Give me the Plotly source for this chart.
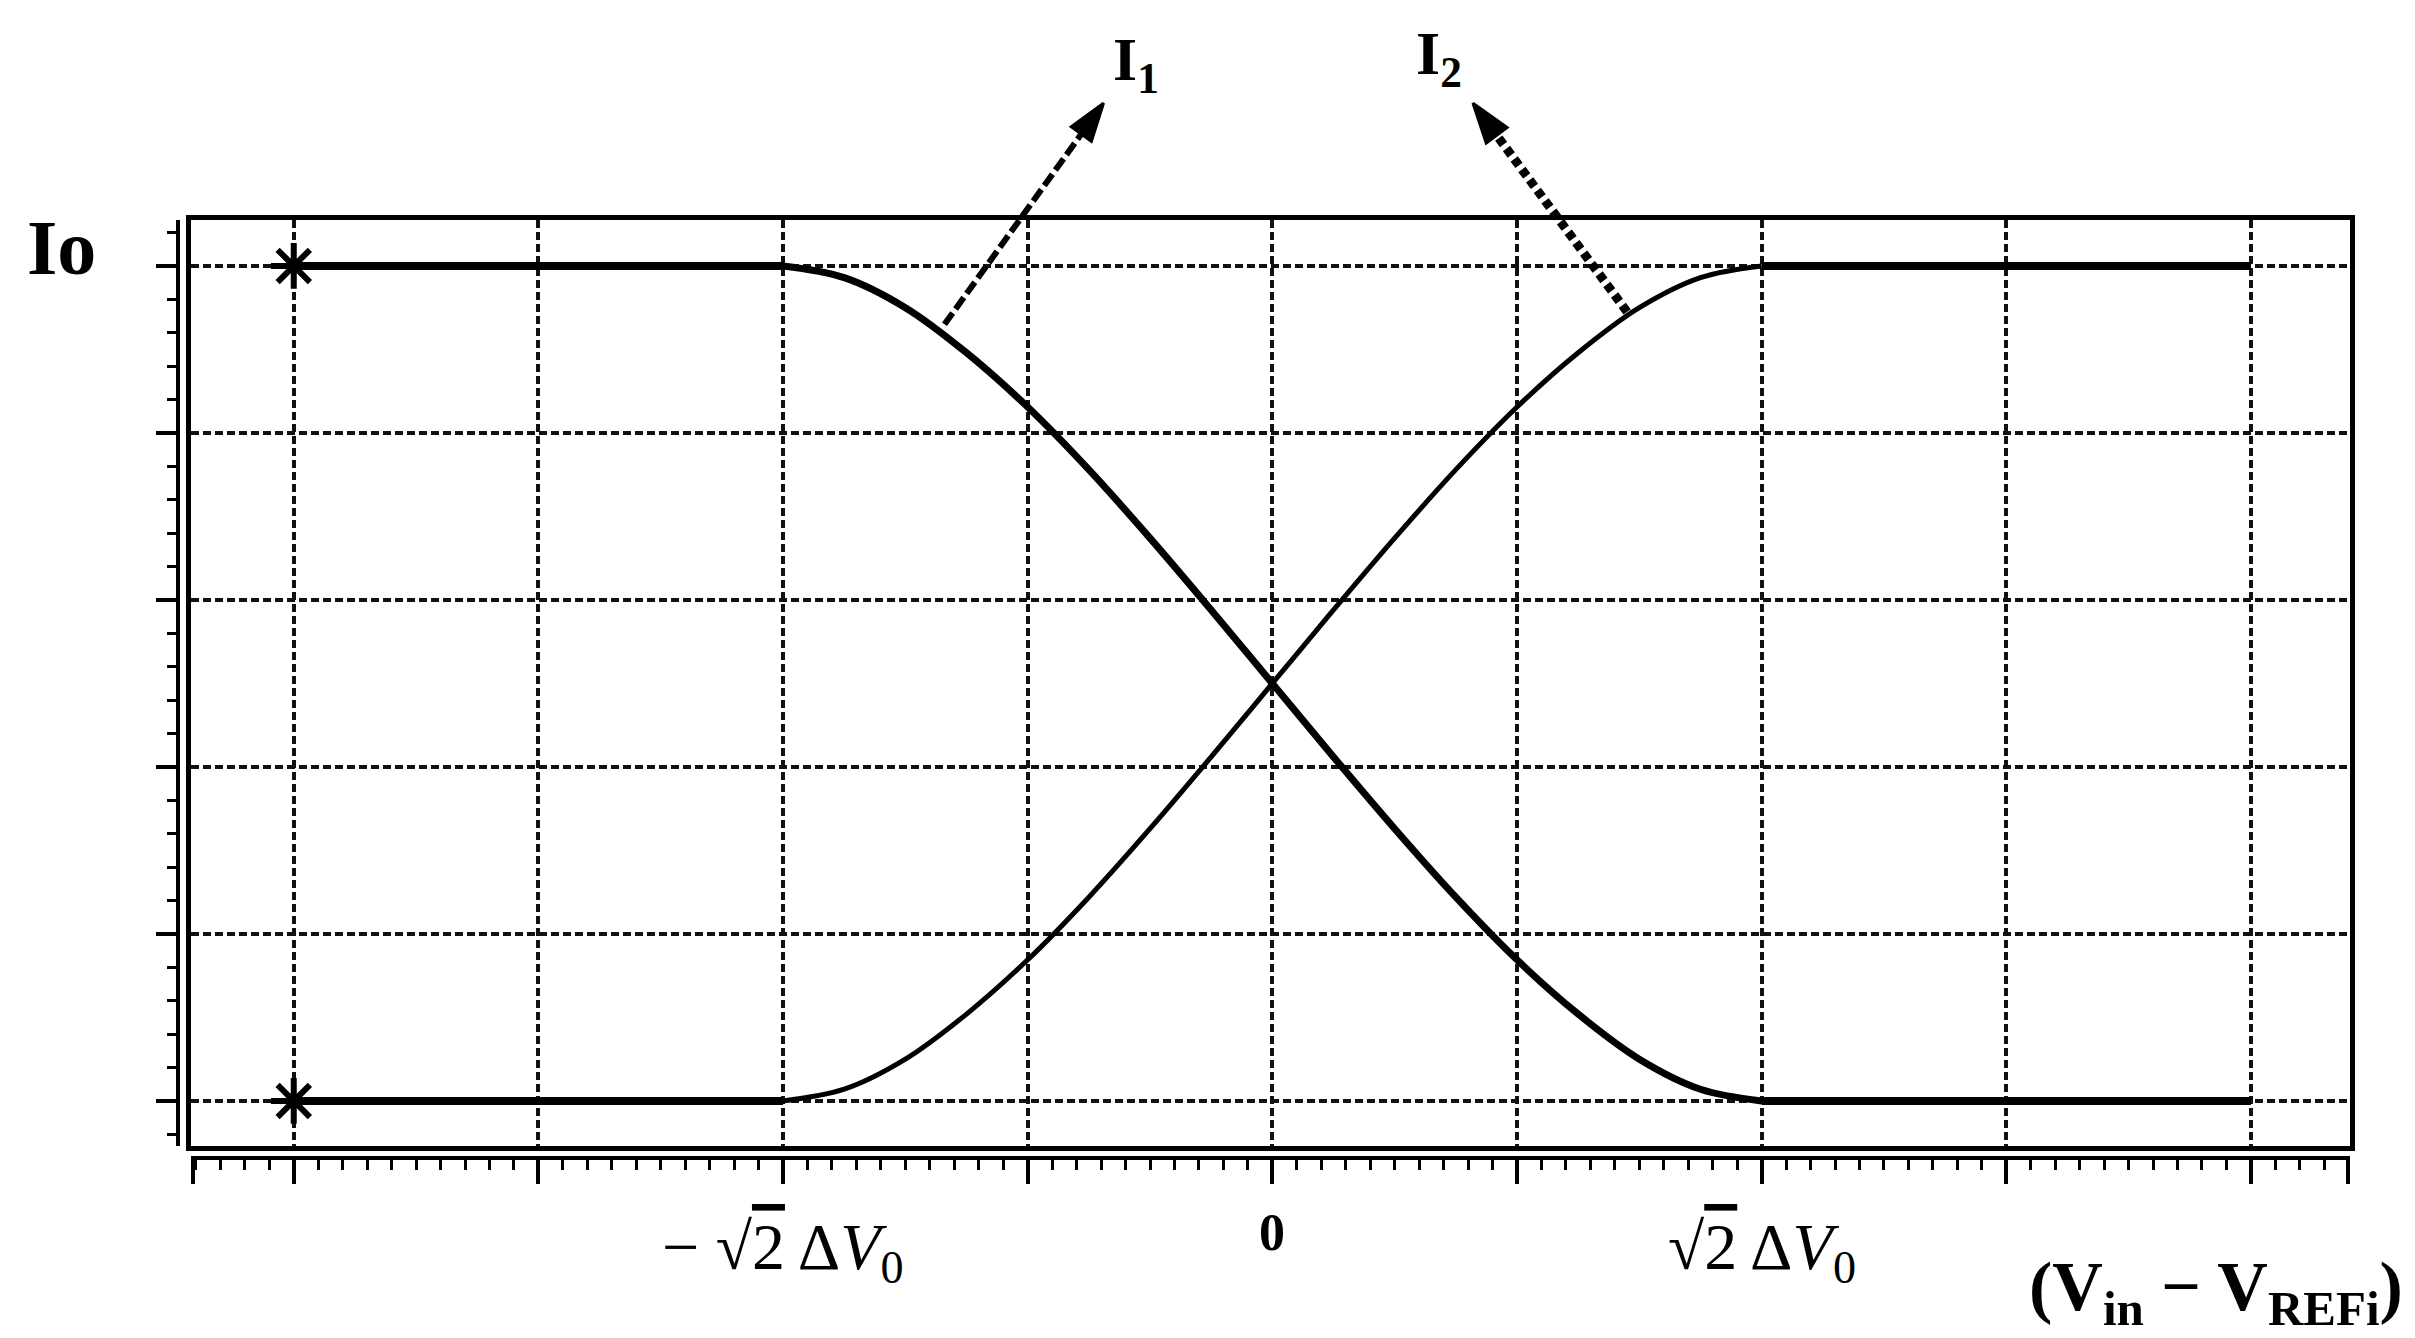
import plotly.graph_objects as go

# figure size and where the drawn box sits (pixels)
W, H = 2415, 1338
BOX_L, BOX_R, BOX_T, BOX_B = 183, 2342, 212, 1138
X_RANGE = [-4.42, 4.405]
Y_RANGE = [-0.054, 1.055]

# data (x in units of sqrt(2)*dV0 / 2, y in units of Io)
x_curve = [-2, -1.75, -1.5, -1.25, -1, -0.75, -0.5, -0.25, 0,
           0.25, 0.5, 0.75, 1, 1.25, 1.5, 1.75, 2]
i1 = [1, 0.986, 0.950, 0.896, 0.831, 0.756, 0.674, 0.588, 0.5,
      0.412, 0.326, 0.244, 0.169, 0.104, 0.050, 0.014, 0]
i2 = [0, 0.014, 0.050, 0.104, 0.169, 0.244, 0.326, 0.412, 0.5,
      0.588, 0.674, 0.756, 0.831, 0.896, 0.950, 0.986, 1]

flat_left_x = [-4, -2]
flat_right_x = [2, 4]
star_x = [-4, -4]
star_y = [1, 0]

arrow1_x = [-1.34, -0.69]
arrow1_y = [0.93, 1.195]
arrow2_x = [1.45, 0.82]
arrow2_y = [0.945, 1.195]

x_major_ticks = [-4.41, -4, -3, -2, -1, 0, 1, 2, 3, 4, 4.395]
tick_pos = [-2, 0, 2]
SQRT2 = '√<span style="text-decoration:overline">2</span>'
tick_text = ["− " + SQRT2 + " Δ<i>V</i><sub>0</sub>", "<b>0</b>", SQRT2 + " Δ<i>V</i><sub>0</sub>"]

# overlay axes covering the whole page, same scale as the box
sx = (X_RANGE[1] - X_RANGE[0]) / (BOX_R - BOX_L)
sy = (Y_RANGE[1] - Y_RANGE[0]) / (BOX_B - BOX_T)
X2_RANGE = [X_RANGE[0] - BOX_L * sx, X_RANGE[1] + (W - BOX_R) * sx]
Y2_RANGE = [Y_RANGE[0] - (H - BOX_B) * sy, Y_RANGE[1] + BOX_T * sy]

SERIF = "Liberation Serif, Times New Roman, serif"
GRID = dict(showgrid=True, gridcolor="#111111", gridwidth=3.5, griddash="8px,4px")

fig = go.Figure()

# I1 thick, I2 thinner
fig.add_trace(go.Scatter(x=x_curve, y=i1, mode="lines",
                         line=dict(color="black", width=7, shape="spline")))
fig.add_trace(go.Scatter(x=x_curve, y=i2, mode="lines",
                         line=dict(color="black", width=5, shape="spline")))

# flat (saturated) parts are heavier
for fx, fy in [(flat_left_x, [1, 1]), (flat_left_x, [0, 0]),
               (flat_right_x, [1, 1]), (flat_right_x, [0, 0])]:
    fig.add_trace(go.Scatter(x=fx, y=fy, mode="lines",
                             line=dict(color="black", width=8)))

fig.add_trace(go.Scatter(x=star_x, y=star_y, mode="markers",
                         marker=dict(symbol="asterisk-open", size=38, color="black",
                                     line=dict(color="black", width=6))))

# dummy traces so the free axes get drawn
fig.add_trace(go.Scatter(x=[0], y=[0.5], xaxis="x3", yaxis="y", mode="markers",
                         marker=dict(size=0, opacity=0), hoverinfo="skip"))
fig.add_trace(go.Scatter(x=[0], y=[0.5], xaxis="x", yaxis="y3", mode="markers",
                         marker=dict(size=0, opacity=0), hoverinfo="skip"))

# pointer arrows (outside the box, so on the page-wide overlay)
fig.add_trace(go.Scatter(x=arrow1_x, y=arrow1_y, xaxis="x2", yaxis="y2", mode="lines+markers",
                         line=dict(color="black", width=6, dash="14px,5px"),
                         marker=dict(symbol=["circle", "arrow"], size=[0, 40], color="black",
                                     opacity=1, line=dict(color="black", width=3),
                                     angleref="previous")))
fig.add_trace(go.Scatter(x=arrow2_x, y=arrow2_y, xaxis="x2", yaxis="y2", mode="lines+markers",
                         line=dict(color="black", width=9, dash="8px,5px"),
                         marker=dict(symbol=["circle", "arrow"], size=[0, 42], color="black",
                                     opacity=1, line=dict(color="black", width=3),
                                     angleref="previous")))

annotations = []
for pos, txt in zip(tick_pos, tick_text):
    bold = txt.startswith("<b>")
    annotations.append(dict(
        x=pos, xref="x", y=1 - (1224 if bold else 1243) / H, yref="paper",
        text=txt, showarrow=False, xanchor="center", yanchor="middle",
        font=dict(family=SERIF, size=52 if bold else 66, color="black")))

annotations += [
    dict(x=53 / W, y=1 - 240 / H, xref="paper", yref="paper", text="<b>Io</b>",
         xanchor="center", yanchor="middle",
         showarrow=False, font=dict(family=SERIF, size=78, color="black")),
    dict(x=-0.558, y=1.242, xref="x2", yref="y2", text="<b>I<sub>1</sub></b>",
         xanchor="center", yanchor="middle",
         showarrow=False, font=dict(family=SERIF, size=62, color="black")),
    dict(x=0.68, y=1.25, xref="x2", yref="y2", text="<b>I<sub>2</sub></b>",
         xanchor="center", yanchor="middle",
         showarrow=False, font=dict(family=SERIF, size=62, color="black")),
    dict(x=2208 / W, y=1 - 1284 / H, xref="paper", yref="paper",
         text="<b>(V<sub>in</sub> − V<sub>REFi</sub>)</b>",
         xanchor="center", yanchor="middle",
         showarrow=False, font=dict(family=SERIF, size=70, color="black")),
]

fig.update_layout(
    width=W, height=H, autosize=False,
    margin=dict(l=0, r=0, t=0, b=0),
    paper_bgcolor="white", plot_bgcolor="rgba(0,0,0,0)",
    showlegend=False,
    xaxis=dict(domain=[BOX_L / W, BOX_R / W], range=X_RANGE, anchor="y",
               showline=True, mirror=True, linewidth=5, linecolor="black",
               tickmode="linear", tick0=0, dtick=1, ticks="", showticklabels=False,
               zeroline=False, **GRID),
    yaxis=dict(domain=[1 - BOX_B / H, 1 - BOX_T / H], range=Y_RANGE, anchor="x",
               showline=True, mirror=True, linewidth=5, linecolor="black",
               tickmode="linear", tick0=0, dtick=0.2, ticks="", showticklabels=False,
               zeroline=False, **GRID),
    xaxis3=dict(overlaying="x", anchor="free", position=1 - 1150 / H, range=X_RANGE,
                showline=True, linewidth=4, linecolor="black",
                tickmode="array", tickvals=x_major_ticks, ticks="outside",
                ticklen=24, tickwidth=4, tickcolor="black", showticklabels=False,
                showgrid=False, zeroline=False,
                minor=dict(tickmode="linear", tick0=0, dtick=0.1, ticks="outside",
                           ticklen=10, tickwidth=3, tickcolor="black", showgrid=False)),
    yaxis3=dict(overlaying="y", anchor="free", position=170 / W, side="left", range=Y_RANGE,
                showline=True, linewidth=4, linecolor="black",
                tickmode="linear", tick0=0, dtick=0.2, ticks="outside",
                ticklen=20, tickwidth=4, tickcolor="black", showticklabels=False,
                showgrid=False, zeroline=False,
                minor=dict(tickmode="linear", tick0=0, dtick=0.04, ticks="outside",
                           ticklen=9, tickwidth=3, tickcolor="black", showgrid=False)),
    xaxis2=dict(domain=[0, 1], range=X2_RANGE, anchor="y2", visible=False),
    yaxis2=dict(domain=[0, 1], range=Y2_RANGE, anchor="x2", visible=False),
    annotations=annotations,
)

fig.write_html("out.html")
